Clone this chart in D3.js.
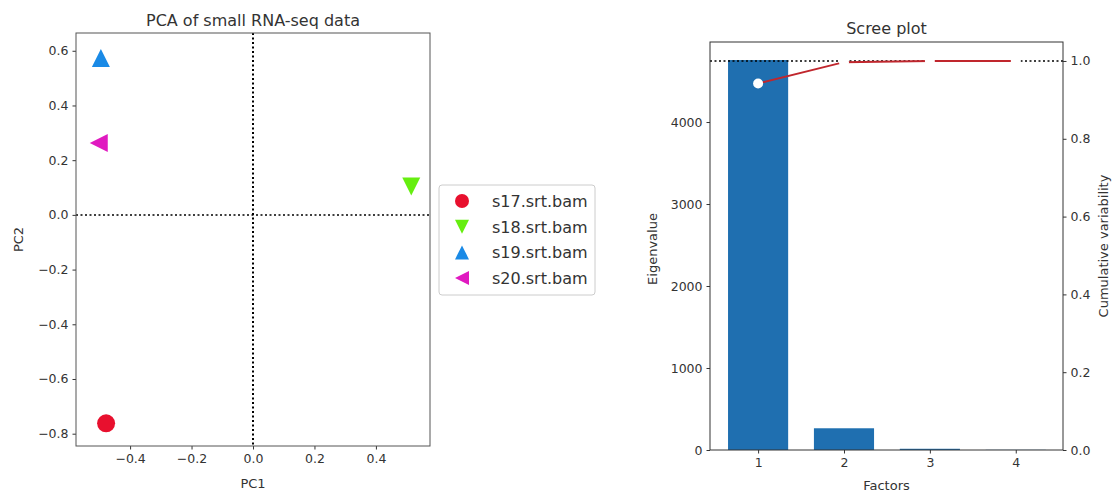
<!DOCTYPE html>
<html><head><meta charset="utf-8">
<script src="https://cdn.jsdelivr.net/npm/d3@7"></script>
<style>
body{margin:0;background:#fff;}
svg{display:block;}
text{font-family:"DejaVu Sans",sans-serif;fill:#333;}
</style></head>
<body>
<svg id="c" width="1116" height="495"></svg>
<script>
// ---- PCA data ----
const samples = ["s17.srt.bam","s18.srt.bam","s19.srt.bam","s20.srt.bam"];
const pc1 = [-0.478, 0.515, -0.495, -0.502];
const pc2 = [-0.762, 0.104, 0.574, 0.263];
const sampleColors = ["#e8102e","#66ee10","#1a8ae6","#e01ac0"];
const sampleShapes = ["circle","down","up","left"];
const pcaXTicks = [-0.4,-0.2,0.0,0.2,0.4];
const pcaYTicks = [-0.8,-0.6,-0.4,-0.2,0.0,0.2,0.4,0.6];

// ---- Scree data ----
const factors = [1,2,3,4];
const eigenvalues = [4756, 265, 15, 2];
const cumulative = [0.942, 0.997, 1.0, 1.0];
const eigTicks = [0,1000,2000,3000,4000];
const cumTicks = [0.0,0.2,0.4,0.6,0.8,1.0];

const svg = d3.select("#c");

function markerPath(shape, r){
  if(shape==="circle") return d3.symbol().type(d3.symbolCircle).size(Math.PI*r*r)();
  const h=r;
  if(shape==="up") return `M0,${-h}L${h},${h}L${-h},${h}Z`;
  if(shape==="down") return `M0,${h}L${h},${-h}L${-h},${-h}Z`;
  if(shape==="left") return `M${-h},0L${h},${-h}L${h},${h}Z`;
}

function styleAxis(g){
  g.selectAll(".domain").remove();
  g.selectAll(".tick line").attr("stroke","#333").attr("stroke-width",1);
  g.selectAll(".tick text").style("font-size","12.5px").style("font-family","DejaVu Sans").attr("fill","#333");
}
const minus = d=>d3.format(".1f")(d).replace("-","\u2212");

// ===== Left: PCA =====
{
  const L=76,R=430,T=33,B=446;
  const x=d3.scaleLinear().domain([-0.576,0.576]).range([L,R]);
  const y=d3.scaleLinear().domain([-0.845,0.665]).range([B,T]);
  svg.append("g").attr("transform",`translate(0,${B})`)
    .call(d3.axisBottom(x).tickValues(pcaXTicks).tickSize(3.5).tickPadding(5).tickFormat(minus)).call(styleAxis);
  svg.append("g").attr("transform",`translate(${L},0)`)
    .call(d3.axisLeft(y).tickValues(pcaYTicks).tickSize(3.5).tickPadding(4).tickFormat(minus)).call(styleAxis);
  // dotted zero lines
  svg.append("line").attr("x1",x(0)).attr("x2",x(0)).attr("y1",T).attr("y2",B)
    .attr("stroke","#000").attr("stroke-width",2).attr("stroke-dasharray","2,2.5");
  svg.append("line").attr("x1",L).attr("x2",R).attr("y1",y(0)).attr("y2",y(0))
    .attr("stroke","#000").attr("stroke-width",1.5).attr("stroke-dasharray","2,2.5");
  svg.append("rect").attr("x",L).attr("y",T).attr("width",R-L).attr("height",B-T)
    .attr("fill","none").attr("stroke","#555").attr("stroke-width",1);
  // points
  samples.forEach((s,i)=>{
    svg.append("path").attr("d",markerPath(sampleShapes[i],9))
      .attr("transform",`translate(${x(pc1[i])},${y(pc2[i])})`)
      .attr("fill",sampleColors[i]);
  });
  svg.append("text").attr("x",(L+R)/2).attr("y",26).attr("text-anchor","middle")
    .style("font-size","16px").text("PCA of small RNA-seq data");
  svg.append("text").attr("x",(L+R)/2).attr("y",488).attr("text-anchor","middle")
    .style("font-size","13px").text("PC1");
  svg.append("text").attr("transform",`translate(23,${(T+B)/2}) rotate(-90)`).attr("text-anchor","middle")
    .style("font-size","13px").text("PC2");
  // legend
  const lg=svg.append("g");
  lg.append("rect").attr("x",439).attr("y",185).attr("width",156).attr("height",110).attr("rx",3)
    .attr("fill","#fff").attr("stroke","#ccc").attr("stroke-width",1);
  samples.forEach((s,i)=>{
    const yy=201+i*25.7;
    lg.append("path").attr("d",markerPath(sampleShapes[i],7)).attr("transform",`translate(462,${yy})`).attr("fill",sampleColors[i]);
    lg.append("text").attr("x",492).attr("y",yy+6).style("font-size","16px").text(s);
  });
}

// ===== Right: Scree =====
{
  const L=710,R=1063,T=42,B=450;
  const x=d3.scaleLinear().domain([0.44,4.55]).range([L,R]);
  const y=d3.scaleLinear().domain([0,4976]).range([B,T]);
  const y2=d3.scaleLinear().domain([0,1.0488]).range([B,T]);
  const bw=x(1.35)-x(0.65);
  svg.append("g").attr("transform",`translate(0,${B})`)
    .call(d3.axisBottom(x).tickValues(factors).tickSize(3.5).tickPadding(5).tickFormat(d3.format("d"))).call(styleAxis);
  svg.append("g").attr("transform",`translate(${L},0)`)
    .call(d3.axisLeft(y).tickValues(eigTicks).tickSize(3.5).tickPadding(4).tickFormat(d3.format("d"))).call(styleAxis);
  svg.append("g").attr("transform",`translate(${R},0)`)
    .call(d3.axisRight(y2).tickValues(cumTicks).tickSize(3.5).tickPadding(4).tickFormat(d3.format(".1f"))).call(styleAxis);
  svg.selectAll(null).data(factors).enter().append("rect")
    .attr("x",d=>x(d)-bw/2).attr("width",bw)
    .attr("y",(d,i)=>y(eigenvalues[i])).attr("height",(d,i)=>B-y(eigenvalues[i]))
    .attr("fill","#1f6fb0");
  svg.append("line").attr("x1",L).attr("x2",R).attr("y1",y2(1)).attr("y2",y2(1))
    .attr("stroke","#000").attr("stroke-width",1.5).attr("stroke-dasharray","2,2.5");
  const line=d3.line().x((d,i)=>x(factors[i])).y(d=>y2(d));
  svg.append("path").datum(cumulative).attr("d",line).attr("fill","none")
    .attr("stroke","#c0262d").attr("stroke-width",2);
  svg.selectAll(null).data(cumulative).enter().append("circle")
    .attr("cx",(d,i)=>x(factors[i])).attr("cy",d=>y2(d)).attr("r",5).attr("fill","#fff");
  svg.append("rect").attr("x",L).attr("y",T).attr("width",R-L).attr("height",B-T)
    .attr("fill","none").attr("stroke","#333").attr("stroke-width",1);
  svg.append("text").attr("x",(L+R)/2).attr("y",34).attr("text-anchor","middle")
    .style("font-size","16px").text("Scree plot");
  svg.append("text").attr("x",(L+R)/2).attr("y",490).attr("text-anchor","middle")
    .style("font-size","13px").text("Factors");
  svg.append("text").attr("transform",`translate(657,249) rotate(-90)`).attr("text-anchor","middle")
    .style("font-size","13px").text("Eigenvalue");
  svg.append("text").attr("transform",`translate(1108,246) rotate(-90)`).attr("text-anchor","middle")
    .style("font-size","13px").text("Cumulative variability");
}
</script>
</body></html>
